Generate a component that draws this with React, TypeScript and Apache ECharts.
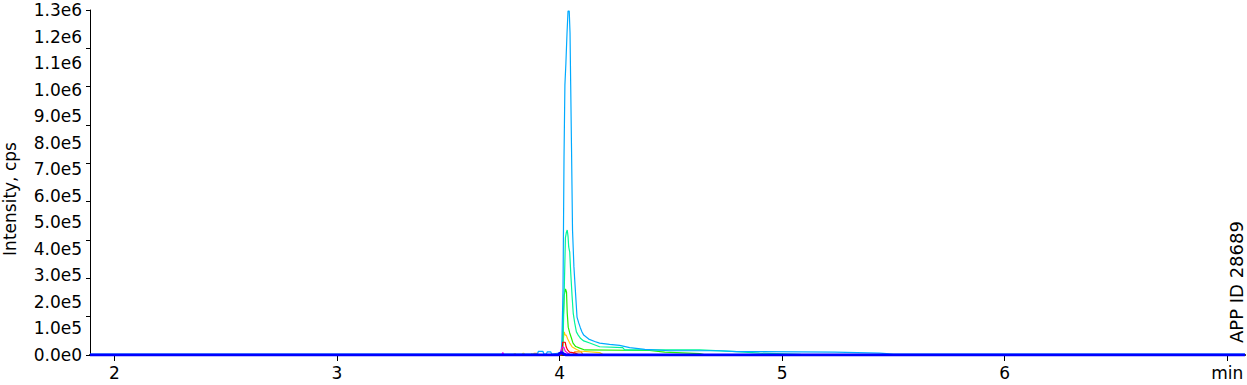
import React, { useEffect, useRef } from "react";
import * as echarts from "echarts";

// time (min) / intensity (cps) pairs
const lightBlue: [number, number][] = [
  [1.89, 3000], [3.9, 3000], [3.905, 14000], [3.925, 14000], [3.93, 3000], [3.94, 3000],
  [3.945, 12000], [3.96, 12000], [3.965, 3000], [4.0074, 8000], [4.0106, 56500], [4.0155, 245000],
  [4.02, 746000], [4.024, 1017000], [4.0285, 1100000], [4.0335, 1213000], [4.038, 1296000],
  [4.0434, 1296000], [4.047, 1213000], [4.05, 1017000], [4.0537, 780000], [4.0582, 471000],
  [4.0645, 332000], [4.0717, 234000], [4.0784, 143000], [4.086, 121000], [4.0937, 102000],
  [4.1009, 87000], [4.1085, 75000], [4.1197, 68000], [4.131, 60000], [4.158, 51000], [4.18, 45000],
  [4.225, 40000], [4.27, 36000], [4.315, 27500], [4.383, 21500], [4.495, 16000], [4.72, 16000],
  [4.796, 13000], [5.236, 11000], [5.438, 7000], [5.5, 3000], [7.08, 3000],
];
const springGreen: [number, number][] = [
  [4.0142, 0], [4.02, 207000], [4.0263, 441000], [4.0308, 463000], [4.0344, 471000], [4.038, 448000],
  [4.0411, 407000], [4.0456, 388000], [4.05, 313000], [4.0559, 226000], [4.0613, 158000],
  [4.068, 121000], [4.0757, 87000], [4.0838, 75000], [4.095, 62000], [4.1085, 53000],
  [4.1355, 45000], [4.18, 31000], [4.2837, 28000], [4.2926, 19000], [4.63, 19000], [4.796, 13000],
  [4.899, 7000], [5.08, 2000], [5.1, 0],
];
const green: [number, number][] = [
  [4.0119, 0], [4.0164, 132000], [4.0209, 226000], [4.0267, 249000], [4.0312, 237000],
  [4.0344, 158000], [4.0389, 105000], [4.0456, 83000], [4.0532, 64000], [4.0604, 45000],
  [4.0726, 32000], [4.0905, 26000], [4.1129, 19000], [4.405, 17000], [4.4724, 11000],
  [4.63, 5000], [4.66, 0],
];
const yellow: [number, number][] = [
  [3.79, 0], [3.8, 6000], [3.805, 0], [3.83, 0], [3.835, 6000], [3.84, 6000], [3.845, 0],
  [3.87, 0], [3.875, 6000], [3.885, 0], [4.0119, 0], [4.0164, 56000], [4.0209, 87000],
  [4.0254, 75000], [4.0299, 75000], [4.0366, 60000], [4.0456, 45000], [4.057, 30000],
  [4.0726, 22600], [4.0905, 15000], [4.18, 9000], [4.2, 0],
];
const orange: [number, number][] = [
  [3.88, 0], [3.885, 6000], [3.9, 6000], [3.905, 0], [4.06, 0], [4.068, 12000], [4.098, 12000], [4.105, 0],
];
const red: [number, number][] = [
  [4.008, 0], [4.0128, 30000], [4.0142, 48000], [4.0254, 48000], [4.0299, 30000],
  [4.036, 19000], [4.045, 11000], [4.07, 7000], [4.09, 0],
];
const magenta: [number, number][] = [
  [3.74, 0], [3.745, 9000], [3.75, 0], [4.004, 0], [4.008, 22000], [4.013, 30000],
  [4.02, 28000], [4.025, 15000], [4.035, 8000], [4.05, 0],
];
const purple: [number, number][] = [
  [4.0, 0], [4.006, 15000], [4.012, 15000], [4.018, 0],
];
const blue: [number, number][] = [
  [1.89, 0], [3.995, 0], [4.0, 6000], [4.01, 8000], [4.02, 3000], [4.03, 0], [7.08, 0],
];

const xTickValues = [2, 3, 4, 5, 6, 7];
const yTickMarks = 9;

const FONT = "DejaVu Sans";

export default function App() {
  const ref = useRef<HTMLDivElement>(null);
  useEffect(() => {
    if (!ref.current) return;
    const chart = echarts.init(ref.current, null, { renderer: "svg" });
    const mk = (name: string, data: [number, number][], color: string, width = 1.2) => ({
      name,
      type: "line",
      data,
      symbol: "none",
      showSymbol: false,
      smooth: false,
      lineStyle: { color, width },
      itemStyle: { color },
      emphasis: { disabled: true },
      silent: true,
      clip: true,
    });
    chart.setOption({
      animation: false,
      backgroundColor: "#ffffff",
      grid: { left: 90, right: 2, top: 10, bottom: 30, containLabel: false },
      xAxis: {
        type: "value",
        min: 1.89,
        max: 7.08,
        offset: 1,
        axisLine: { show: true, lineStyle: { color: "#000", width: 2 } },
        axisTick: { show: true, customValues: xTickValues, length: 6, lineStyle: { color: "#000", width: 1 } },
        axisLabel: {
          customValues: xTickValues,
          formatter: (v: number) => (v === 7 ? "min" : String(v)),
          margin: 8,
          fontFamily: FONT,
          fontSize: 17,
          color: "#000",
        },
        splitLine: { show: false },
      },
      yAxis: [
        {
          type: "value",
          min: 0,
          max: 1300000,
          interval: 100000,
          position: "left",
          axisLine: { show: true, lineStyle: { color: "#000", width: 1 } },
          axisTick: { show: false },
          axisLabel: {
            formatter: (v: number) => v.toExponential(1).replace("e+", "e"),
            margin: 8,
            fontFamily: FONT,
            fontSize: 17,
            color: "#000",
          },
          splitLine: { show: false },
        },
        {
          type: "value",
          min: 0,
          max: yTickMarks,
          interval: 1,
          position: "left",
          offset: 0,
          axisLine: { show: false },
          axisTick: { show: true, length: 4, lineStyle: { color: "#000", width: 1 } },
          axisLabel: { show: false },
          splitLine: { show: false },
        },
      ],
      graphic: [
        {
          type: "text",
          x: 10,
          y: 199,
          rotation: Math.PI / 2,
          style: {
            text: "Intensity, cps",
            fontFamily: FONT,
            fontSize: 17,
            fill: "#000",
            textAlign: "center",
            textVerticalAlign: "middle",
          },
        },
        {
          type: "text",
          x: 1236,
          y: 343,
          rotation: Math.PI / 2,
          style: {
            text: "APP ID 28689",
            fontFamily: FONT,
            fontSize: 18,
            fill: "#000",
            textAlign: "left",
            textVerticalAlign: "middle",
          },
        },
      ],
      series: [
        mk("orange", orange, "#ff8800"),
        mk("yellow", yellow, "#ffcc00"),
        mk("green", green, "#22ee00"),
        mk("springGreen", springGreen, "#00f59a"),
        mk("lightBlue", lightBlue, "#00aaff"),
        mk("red", red, "#ff0000"),
        mk("magenta", magenta, "#ee00ee"),
        mk("purple", purple, "#8a00ff"),
        mk("blue", blue, "#0000ff", 3),
      ],
    });
    return () => chart.dispose();
  }, []);
  return (
    <div
      ref={ref}
      style={{ position: "absolute", left: 0, top: 0, width: 1247, height: 385, background: "#fff" }}
    />
  );
}
